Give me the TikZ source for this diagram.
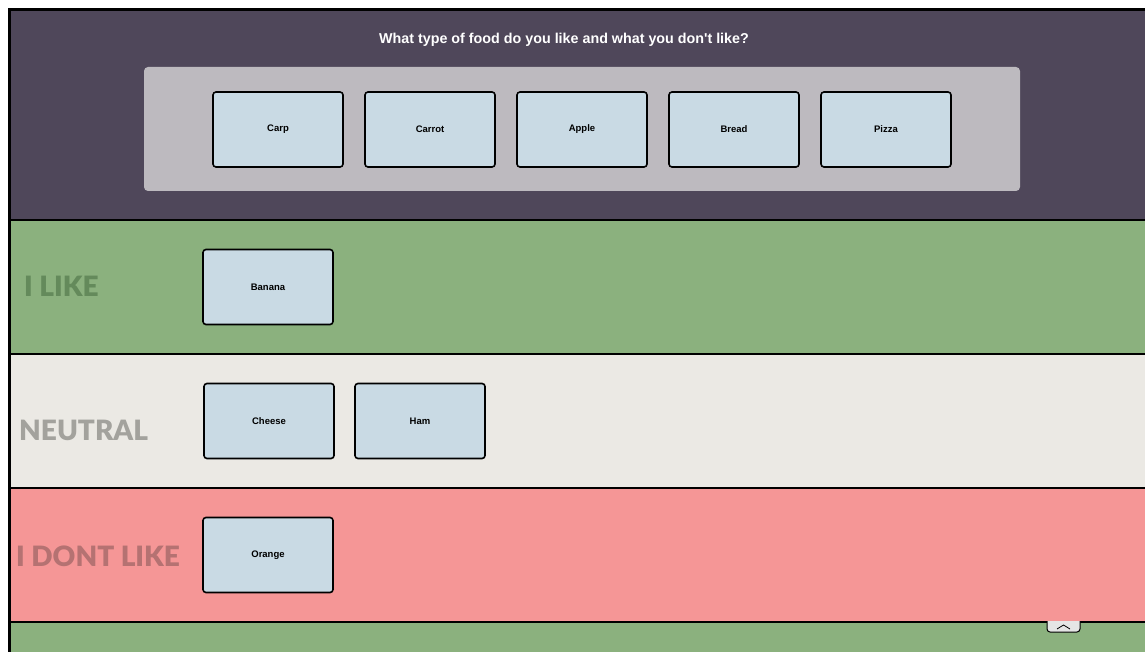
\documentclass[tikz,border=0pt]{standalone}
\usepackage{fontspec}
\setmainfont{Liberation Sans}
\newfontfamily\titlefont{Liberation Sans}
\newfontfamily\labelfont{Lato Black}
\definecolor{headbg}{HTML}{4F475A}
\definecolor{panelbg}{HTML}{BDBABF}
\definecolor{likebg}{HTML}{8BB17E}
\definecolor{neutralbg}{HTML}{EBE9E4}
\definecolor{dislikebg}{HTML}{F59696}
\definecolor{cardbg}{HTML}{C9DAE4}
\definecolor{liketext}{HTML}{648A5B}
\definecolor{neutraltext}{HTML}{A3A29D}
\definecolor{disliketext}{HTML}{B57272}
\begin{document}
\begin{tikzpicture}[x=1pt,y=-1pt,
  food/.style={draw=black, line width=1.6pt, fill=cardbg, rounded corners=3pt,
    minimum width=130pt, minimum height=75pt, inner sep=0pt,
    font=\fontsize{9.5}{11}\selectfont\bfseries},
  rowlabel/.style={anchor=west, inner sep=0pt,
    font=\labelfont\fontsize{28}{32}\selectfont},
  sep/.style={draw=black, line width=2pt}]
\useasboundingbox (0,0) rectangle (1145,652);
% bands
\fill[headbg] (9,10) rectangle (1145,220);
\fill[likebg] (9,220) rectangle (1145,354);
\fill[neutralbg] (9,354) rectangle (1145,488);
\fill[dislikebg] (9,488) rectangle (1145,622);
\fill[likebg] (9,622) rectangle (1145,652);
\draw[sep] (9,220) -- (1145,220);
\draw[sep] (9,354) -- (1145,354);
\draw[sep] (9,488) -- (1145,488);
\draw[sep] (9,622) -- (1145,622);
\draw[black, line width=3pt] (9,652) -- (9,10) -- (1145,10);
% question and pool
\node[text=white, font=\titlefont\fontsize{14.3}{16}\selectfont\bfseries] (question) at (564,40)
  {What type of food do you like and what you don't like?};
\fill[panelbg, rounded corners=4pt] (144,67) rectangle (1020,191);
\node[food] (carp) at (278,129.5) {Carp};
\node[food] (carrot) at (430,129.5) {Carrot};
\node[food] (apple) at (582,129.5) {Apple};
\node[food] (bread) at (734,129.5) {Bread};
\node[food] (pizza) at (886,129.5) {Pizza};
% rows
\node[rowlabel, text=liketext] (like) at (24,286) {I LIKE};
\node[food] (banana) at (268,287) {Banana};
\node[rowlabel, text=neutraltext] (neutral) at (19,430) {NEUTRAL};
\node[food] (cheese) at (269,421) {Cheese};
\node[food] (ham) at (420,421) {Ham};
\node[rowlabel, text=disliketext] (dislike) at (16,556) {I DONT LIKE};
\node[food] (orange) at (268,555) {Orange};
% scroll tab
\draw[black, line width=1pt, fill=black!10, rounded corners=3pt]
  (1047,621) -- (1047,632) -- (1080,632) -- (1080,621);
\draw[black, line width=0.8pt] (1057,629) -- (1063.5,625) -- (1070,629);
\end{tikzpicture}
\end{document}
